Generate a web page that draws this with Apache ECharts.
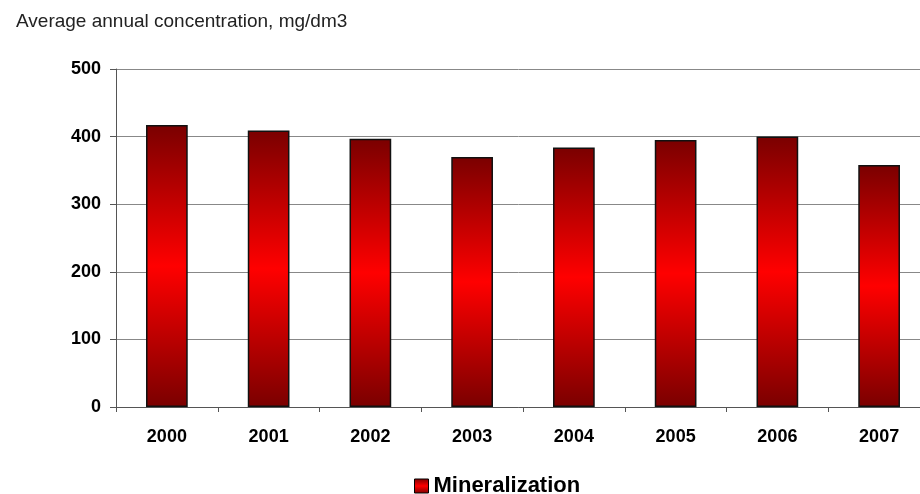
<!DOCTYPE html>
<html>
<head>
<meta charset="utf-8">
<script src="https://cdn.jsdelivr.net/npm/echarts@6/dist/echarts.min.js"></script>
<style>
  html, body { margin: 0; padding: 0; background: #fff; }
  #chart { width: 920px; height: 494px; }
</style>
</head>
<body>
<div id="chart"></div>
<script>
const years = ["2000", "2001", "2002", "2003", "2004", "2005", "2006", "2007"];
const mineralization = [417, 409, 397, 370, 384, 395, 400, 358];
const yTicks = [0, 100, 200, 300, 400, 500];

const myChart = echarts.init(document.getElementById("chart"));

// dark - bright red - dark, like the original cylinder shading
const barFill = new echarts.graphic.LinearGradient(0, 0, 0, 1, [
  { offset: 0, color: "#7a0000" },
  { offset: 0.5, color: "#ff0000" },
  { offset: 1, color: "#7a0000" },
]);

myChart.setOption({
  animation: false,
  title: {
    text: "Average annual concentration, mg/dm3",
    left: 11,
    top: 7,
    textStyle: {
      fontFamily: "Liberation Sans, Arial",
      fontSize: 19,
      fontWeight: "normal",
      color: "#222",
    },
  },
  legend: {
    top: 470,
    left: 409,
    itemWidth: 14,
    itemHeight: 14,
    itemGap: 8,
    textStyle: {
      fontFamily: "Liberation Sans, Arial",
      fontSize: 22,
      fontWeight: "bold",
      color: "#000",
    },
    data: [
      {
        name: "Mineralization",
        icon: "rect",
        itemStyle: { color: barFill, borderColor: "#000", borderWidth: 1 },
      },
    ],
  },
  grid: {
    left: 116,
    top: 69,
    width: 814,
    height: 338,
    outerBoundsMode: "none",
  },
  xAxis: {
    type: "category",
    data: years,
    axisLine: { lineStyle: { color: "#555", width: 1 } },
    axisTick: { show: true, length: 5, lineStyle: { color: "#555" } },
    axisLabel: {
      margin: 21,
      fontFamily: "Liberation Sans, Arial",
      fontSize: 18,
      fontWeight: "bold",
      color: "#000",
    },
  },
  yAxis: {
    type: "value",
    min: yTicks[0],
    max: yTicks[yTicks.length - 1],
    interval: 100,
    axisLine: { show: true, lineStyle: { color: "#555", width: 1 } },
    axisTick: { show: true, length: 6, lineStyle: { color: "#555" } },
    splitLine: { lineStyle: { color: "#888", width: 1 } },
    axisLabel: {
      margin: 15,
      fontFamily: "Liberation Sans, Arial",
      fontSize: 18,
      fontWeight: "bold",
      color: "#000",
    },
  },
  series: [
    {
      name: "Mineralization",
      type: "bar",
      data: mineralization,
      barWidth: "41%",
      itemStyle: {
        color: barFill,
        borderColor: "#111",
        borderWidth: 1.5,
      },
    },
  ],
});
</script>
</body>
</html>
